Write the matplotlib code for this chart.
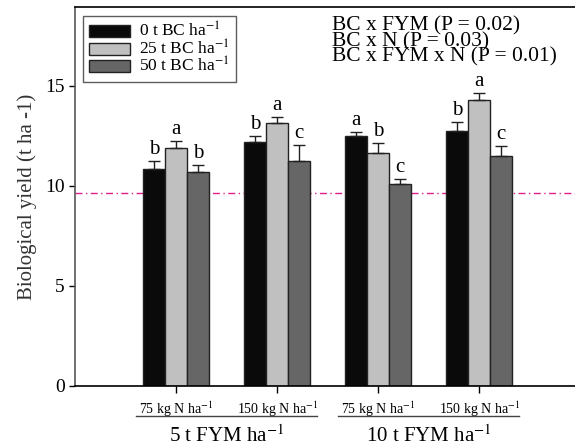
import matplotlib
matplotlib.use('Agg')
import matplotlib.pyplot as plt
import numpy as np

plt.rcParams['font.family'] = 'Liberation Serif'
plt.rcParams['mathtext.fontset'] = 'stix'

groups = ['75 kg N ha$^{-1}$', '150 kg N ha$^{-1}$', '75 kg N ha$^{-1}$', '150 kg N ha$^{-1}$']
fym_labels = ['5 t FYM ha$^{-1}$', '10 t FYM ha$^{-1}$']
series = ['0 t BC ha$^{-1}$', '25 t BC ha$^{-1}$', '50 t BC ha$^{-1}$']
values = [
    [10.85, 12.2, 12.5, 12.75],
    [11.9, 13.15, 11.65, 14.3],
    [10.7, 11.25, 10.1, 11.5],
]
errors = [
    [0.4, 0.3, 0.2, 0.45],
    [0.35, 0.3, 0.5, 0.35],
    [0.35, 0.8, 0.25, 0.5],
]
letters = [
    ['b', 'b', 'a', 'b'],
    ['a', 'a', 'b', 'a'],
    ['b', 'c', 'c', 'c'],
]
control = 9.65
colors = ['#0a0a0a', '#c0c0c0', '#666666']

fig = plt.figure(figsize=(5.75, 4.47), dpi=100)
ax = fig.add_axes([75/575, 61/447, 1 - 75/575, 379/447])

x = np.arange(1, 5)
w = 0.215
for i in range(3):
    xs = x + (i - 1) * w
    ax.bar(xs, values[i], w, color=colors[i], edgecolor='#222222', linewidth=1.0,
           label=series[i], zorder=2)
    ax.errorbar(xs, values[i], yerr=[np.zeros(4), errors[i]], fmt='none',
                ecolor='#222222', elinewidth=1.0, capsize=4, capthick=1.0, zorder=3)
    for j in range(4):
        ax.text(xs[j], values[i][j] + errors[i][j] + 0.12, letters[i][j],
                ha='center', va='bottom', fontsize=15)

ax.axhline(control, color='#e0208a', linestyle=(0, (5, 2.5, 1, 2.5)), linewidth=1.0, zorder=1)

ax.set_xlim(0, 4.95)
ax.set_ylim(0, 18.95)
ax.set_yticks([0, 5, 10, 15])
ax.tick_params(axis='y', labelsize=14, length=4, width=1, direction='out')
ax.set_xticks(x)
ax.set_xticklabels([])
ax.tick_params(axis='x', length=5, width=1, direction='out')
ax.spines['right'].set_visible(False)
for s in ['left', 'bottom', 'top']:
    ax.spines[s].set_linewidth(1.2)
ax.spines['left'].set_color('#555555')
ax.set_ylabel('Biological yield (t ha -1)', fontsize=15, color='#333333', labelpad=6)

for j in range(4):
    ax.text(x[j], -1.15, groups[j], ha='center', va='center', fontsize=10,
            transform=ax.transData, clip_on=False)
for k in range(2):
    x0, x1 = x[2*k] - 0.4, x[2*k+1] + 0.4
    ax.plot([x0, x1], [-1.5, -1.5], color='#444444', linewidth=1.0, clip_on=False)
    ax.text((x0 + x1) / 2, -2.5, fym_labels[k], ha='center', va='center',
            fontsize=15, clip_on=False)

ax.legend(loc='upper left', bbox_to_anchor=(0.005, 0.99), fontsize=12.5, frameon=True,
          fancybox=False, edgecolor='#333333', handlelength=2.4, handleheight=0.7,
          labelspacing=-0.1, borderpad=0.35, handletextpad=0.5, borderaxespad=0.3)

ax.text(0.514, 0.975, 'BC x FYM (P = 0.02)\nBC x N (P = 0.03)\nBC x FYM x N (P = 0.01)',
        transform=ax.transAxes, ha='left', va='top', fontsize=15.5, linespacing=0.72)

fig.savefig('out.png', dpi=100)
